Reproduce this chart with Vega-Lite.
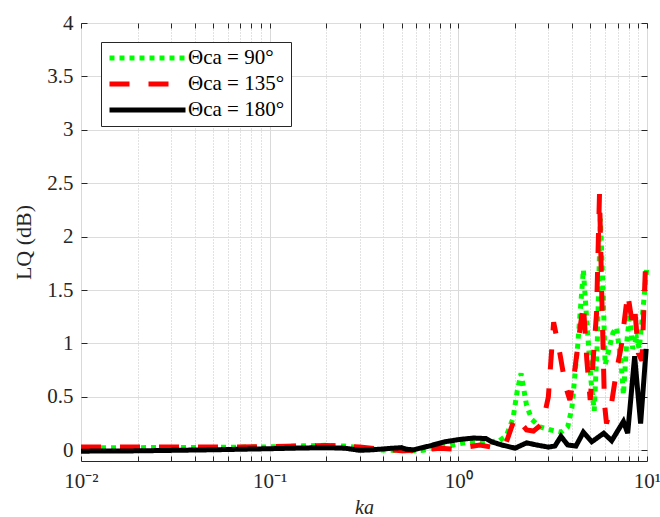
{
  "$schema": "https://vega.github.io/schema/vega-lite/v6.json",
  "width": 566,
  "height": 438,
  "autosize": {"type": "none"},
  "padding": {"left": 81, "top": 23, "right": 13, "bottom": 56},
  "background": "white",
  "config": {
    "view": {"stroke": "#262626", "strokeWidth": 1},
    "font": "Liberation Serif",
    "axis": {
      "domain": false,
      "labelFont": "Liberation Serif",
      "labelFontSize": 21,
      "labelColor": "#262626",
      "tickColor": "#262626",
      "titleFont": "Liberation Serif",
      "titleFontSize": 22,
      "titleFontWeight": "normal",
      "titleColor": "#262626"
    }
  },
  "datasets": {
    "d": [
      {"ka": 0.01, "L": 0.025, "s": "Θca = 90°", "k": "g"},
      {"ka": 0.02, "L": 0.025, "s": "Θca = 90°", "k": "g"},
      {"ka": 0.05, "L": 0.027, "s": "Θca = 90°", "k": "g"},
      {"ka": 0.1, "L": 0.032, "s": "Θca = 90°", "k": "g"},
      {"ka": 0.15, "L": 0.042, "s": "Θca = 90°", "k": "g"},
      {"ka": 0.2, "L": 0.047, "s": "Θca = 90°", "k": "g"},
      {"ka": 0.25, "L": 0.04, "s": "Θca = 90°", "k": "g"},
      {"ka": 0.3, "L": 0.025, "s": "Θca = 90°", "k": "g"},
      {"ka": 0.38, "L": 0.003, "s": "Θca = 90°", "k": "g"},
      {"ka": 0.47, "L": 0.0, "s": "Θca = 90°", "k": "g"},
      {"ka": 0.55, "L": -0.006, "s": "Θca = 90°", "k": "g"},
      {"ka": 0.65, "L": 0.0, "s": "Θca = 90°", "k": "g"},
      {"ka": 0.8, "L": 0.03, "s": "Θca = 90°", "k": "g"},
      {"ka": 0.94, "L": 0.05, "s": "Θca = 90°", "k": "g"},
      {"ka": 1.15, "L": 0.08, "s": "Θca = 90°", "k": "g"},
      {"ka": 1.5, "L": 0.08, "s": "Θca = 90°", "k": "g"},
      {"ka": 1.65, "L": 0.09, "s": "Θca = 90°", "k": "g"},
      {"ka": 1.8, "L": 0.14, "s": "Θca = 90°", "k": "g"},
      {"ka": 1.95, "L": 0.3, "s": "Θca = 90°", "k": "g"},
      {"ka": 2.05, "L": 0.55, "s": "Θca = 90°", "k": "g"},
      {"ka": 2.15, "L": 0.72, "s": "Θca = 90°", "k": "g"},
      {"ka": 2.3, "L": 0.42, "s": "Θca = 90°", "k": "g"},
      {"ka": 2.45, "L": 0.29, "s": "Θca = 90°", "k": "g"},
      {"ka": 2.7, "L": 0.22, "s": "Θca = 90°", "k": "g"},
      {"ka": 3.1, "L": 0.19, "s": "Θca = 90°", "k": "g"},
      {"ka": 3.5, "L": 0.17, "s": "Θca = 90°", "k": "g"},
      {"ka": 3.8, "L": 0.22, "s": "Θca = 90°", "k": "g"},
      {"ka": 4.0, "L": 0.4, "s": "Θca = 90°", "k": "g"},
      {"ka": 4.3, "L": 1.0, "s": "Θca = 90°", "k": "g"},
      {"ka": 4.6, "L": 1.69, "s": "Θca = 90°", "k": "g"},
      {"ka": 4.8, "L": 1.2, "s": "Θca = 90°", "k": "g"},
      {"ka": 5.05, "L": 0.65, "s": "Θca = 90°", "k": "g"},
      {"ka": 5.25, "L": 0.37, "s": "Θca = 90°", "k": "g"},
      {"ka": 5.45, "L": 1.0, "s": "Θca = 90°", "k": "g"},
      {"ka": 5.66, "L": 2.17, "s": "Θca = 90°", "k": "g"},
      {"ka": 5.85, "L": 1.5, "s": "Θca = 90°", "k": "g"},
      {"ka": 6.0, "L": 0.8, "s": "Θca = 90°", "k": "g"},
      {"ka": 6.2, "L": 0.9, "s": "Θca = 90°", "k": "g"},
      {"ka": 6.6, "L": 1.1, "s": "Θca = 90°", "k": "g"},
      {"ka": 6.9, "L": 1.15, "s": "Θca = 90°", "k": "g"},
      {"ka": 7.3, "L": 0.8, "s": "Θca = 90°", "k": "g"},
      {"ka": 7.5, "L": 0.52, "s": "Θca = 90°", "k": "g"},
      {"ka": 7.8, "L": 1.0, "s": "Θca = 90°", "k": "g"},
      {"ka": 8.1, "L": 1.28, "s": "Θca = 90°", "k": "g"},
      {"ka": 8.4, "L": 0.95, "s": "Θca = 90°", "k": "g"},
      {"ka": 8.8, "L": 1.05, "s": "Θca = 90°", "k": "g"},
      {"ka": 9.1, "L": 0.95, "s": "Θca = 90°", "k": "g"},
      {"ka": 9.5, "L": 1.3, "s": "Θca = 90°", "k": "g"},
      {"ka": 10, "L": 1.73, "s": "Θca = 90°", "k": "g"},

      {"ka": 0.01, "L": 0.03, "s": "Θca = 135°", "k": "r"},
      {"ka": 0.05, "L": 0.03, "s": "Θca = 135°", "k": "r"},
      {"ka": 0.1, "L": 0.035, "s": "Θca = 135°", "k": "r"},
      {"ka": 0.2, "L": 0.045, "s": "Θca = 135°", "k": "r"},
      {"ka": 0.25, "L": 0.04, "s": "Θca = 135°", "k": "r"},
      {"ka": 0.3, "L": 0.03, "s": "Θca = 135°", "k": "r"},
      {"ka": 0.4, "L": 0.01, "s": "Θca = 135°", "k": "r"},
      {"ka": 0.5, "L": -0.005, "s": "Θca = 135°", "k": "r"},
      {"ka": 0.6, "L": 0.0, "s": "Θca = 135°", "k": "r"},
      {"ka": 0.8, "L": 0.02, "s": "Θca = 135°", "k": "r"},
      {"ka": 0.95, "L": 0.01, "s": "Θca = 135°", "k": "r"},
      {"ka": 1.1, "L": 0.03, "s": "Θca = 135°", "k": "r"},
      {"ka": 1.3, "L": 0.05, "s": "Θca = 135°", "k": "r"},
      {"ka": 1.5, "L": 0.03, "s": "Θca = 135°", "k": "r"},
      {"ka": 1.65, "L": 0.02, "s": "Θca = 135°", "k": "r"},
      {"ka": 1.8, "L": 0.08, "s": "Θca = 135°", "k": "r"},
      {"ka": 1.9, "L": 0.2, "s": "Θca = 135°", "k": "r"},
      {"ka": 2.0, "L": 0.31, "s": "Θca = 135°", "k": "r"},
      {"ka": 2.1, "L": 0.28, "s": "Θca = 135°", "k": "r"},
      {"ka": 2.3, "L": 0.19, "s": "Θca = 135°", "k": "r"},
      {"ka": 2.5, "L": 0.18, "s": "Θca = 135°", "k": "r"},
      {"ka": 2.8, "L": 0.25, "s": "Θca = 135°", "k": "r"},
      {"ka": 3.0, "L": 0.5, "s": "Θca = 135°", "k": "r"},
      {"ka": 3.2, "L": 1.2, "s": "Θca = 135°", "k": "r"},
      {"ka": 3.45, "L": 0.91, "s": "Θca = 135°", "k": "r"},
      {"ka": 3.7, "L": 0.6, "s": "Θca = 135°", "k": "r"},
      {"ka": 3.9, "L": 0.47, "s": "Θca = 135°", "k": "r"},
      {"ka": 4.1, "L": 0.69, "s": "Θca = 135°", "k": "r"},
      {"ka": 4.4, "L": 1.12, "s": "Θca = 135°", "k": "r"},
      {"ka": 4.6, "L": 1.37, "s": "Θca = 135°", "k": "r"},
      {"ka": 4.8, "L": 0.84, "s": "Θca = 135°", "k": "r"},
      {"ka": 5.0, "L": 0.47, "s": "Θca = 135°", "k": "r"},
      {"ka": 5.4, "L": 1.28, "s": "Θca = 135°", "k": "r"},
      {"ka": 5.6, "L": 2.4, "s": "Θca = 135°", "k": "r"},
      {"ka": 5.75, "L": 1.5, "s": "Θca = 135°", "k": "r"},
      {"ka": 5.95, "L": 0.44, "s": "Θca = 135°", "k": "r"},
      {"ka": 6.1, "L": 0.25, "s": "Θca = 135°", "k": "r"},
      {"ka": 6.45, "L": 0.41, "s": "Θca = 135°", "k": "r"},
      {"ka": 6.9, "L": 0.75, "s": "Θca = 135°", "k": "r"},
      {"ka": 7.3, "L": 0.97, "s": "Θca = 135°", "k": "r"},
      {"ka": 7.9, "L": 1.47, "s": "Θca = 135°", "k": "r"},
      {"ka": 8.3, "L": 1.22, "s": "Θca = 135°", "k": "r"},
      {"ka": 8.6, "L": 1.34, "s": "Θca = 135°", "k": "r"},
      {"ka": 9.0, "L": 0.91, "s": "Θca = 135°", "k": "r"},
      {"ka": 9.4, "L": 0.84, "s": "Θca = 135°", "k": "r"},
      {"ka": 9.8, "L": 1.69, "s": "Θca = 135°", "k": "r"},
      {"ka": 10, "L": 1.75, "s": "Θca = 135°", "k": "r"},

      {"ka": 0.01, "L": -0.008, "s": "Θca = 180°", "k": "b"},
      {"ka": 0.02, "L": -0.005, "s": "Θca = 180°", "k": "b"},
      {"ka": 0.05, "L": 0.005, "s": "Θca = 180°", "k": "b"},
      {"ka": 0.1, "L": 0.015, "s": "Θca = 180°", "k": "b"},
      {"ka": 0.15, "L": 0.022, "s": "Θca = 180°", "k": "b"},
      {"ka": 0.2, "L": 0.025, "s": "Θca = 180°", "k": "b"},
      {"ka": 0.25, "L": 0.02, "s": "Θca = 180°", "k": "b"},
      {"ka": 0.3, "L": 0.0, "s": "Θca = 180°", "k": "b"},
      {"ka": 0.35, "L": 0.005, "s": "Θca = 180°", "k": "b"},
      {"ka": 0.45, "L": 0.02, "s": "Θca = 180°", "k": "b"},
      {"ka": 0.5, "L": 0.025, "s": "Θca = 180°", "k": "b"},
      {"ka": 0.53, "L": 0.01, "s": "Θca = 180°", "k": "b"},
      {"ka": 0.58, "L": 0.005, "s": "Θca = 180°", "k": "b"},
      {"ka": 0.7, "L": 0.04, "s": "Θca = 180°", "k": "b"},
      {"ka": 0.85, "L": 0.08, "s": "Θca = 180°", "k": "b"},
      {"ka": 1.0, "L": 0.1, "s": "Θca = 180°", "k": "b"},
      {"ka": 1.2, "L": 0.115, "s": "Θca = 180°", "k": "b"},
      {"ka": 1.4, "L": 0.11, "s": "Θca = 180°", "k": "b"},
      {"ka": 1.5, "L": 0.08, "s": "Θca = 180°", "k": "b"},
      {"ka": 1.7, "L": 0.05, "s": "Θca = 180°", "k": "b"},
      {"ka": 2.0, "L": 0.02, "s": "Θca = 180°", "k": "b"},
      {"ka": 2.3, "L": 0.07, "s": "Θca = 180°", "k": "b"},
      {"ka": 2.6, "L": 0.05, "s": "Θca = 180°", "k": "b"},
      {"ka": 3.0, "L": 0.03, "s": "Θca = 180°", "k": "b"},
      {"ka": 3.25, "L": 0.04, "s": "Θca = 180°", "k": "b"},
      {"ka": 3.5, "L": 0.13, "s": "Θca = 180°", "k": "b"},
      {"ka": 3.8, "L": 0.05, "s": "Θca = 180°", "k": "b"},
      {"ka": 4.2, "L": 0.04, "s": "Θca = 180°", "k": "b"},
      {"ka": 4.6, "L": 0.17, "s": "Θca = 180°", "k": "b"},
      {"ka": 5.1, "L": 0.08, "s": "Θca = 180°", "k": "b"},
      {"ka": 5.9, "L": 0.16, "s": "Θca = 180°", "k": "b"},
      {"ka": 6.5, "L": 0.09, "s": "Θca = 180°", "k": "b"},
      {"ka": 7.5, "L": 0.27, "s": "Θca = 180°", "k": "b"},
      {"ka": 7.9, "L": 0.16, "s": "Θca = 180°", "k": "b"},
      {"ka": 8.6, "L": 0.88, "s": "Θca = 180°", "k": "b"},
      {"ka": 9.25, "L": 0.25, "s": "Θca = 180°", "k": "b"},
      {"ka": 9.9, "L": 0.95, "s": "Θca = 180°", "k": "b"}
    ]
  },
  "data": {"name": "d"},
  "layer": [
    {
      "transform": [{"filter": "datum.k == 'g'"}],
      "mark": {"type": "line", "strokeWidth": 5, "strokeCap": "butt"},
      "encoding": {
        "x": {
          "field": "ka", "type": "quantitative",
          "scale": {"type": "log", "domain": [0.01, 10], "nice": false},
          "axis": {
            "orient": "bottom",
            "title": "ka",
            "titleFontStyle": "italic",
            "titleFontSize": 20,
            "titlePadding": 6,
            "values": [0.01,0.02,0.03,0.04,0.05,0.06,0.07,0.08,0.09,0.1,0.2,0.3,0.4,0.5,0.6,0.7,0.8,0.9,1,2,3,4,5,6,7,8,9,10],
            "labelExpr": "datum.value == 0.01 ? '10⁻²' : datum.value == 0.1 ? '10⁻¹' : datum.value == 1 ? '10⁰' : datum.value == 10 ? '10¹' : ''",
            "labelFlush": false,
            "labelOverlap": false,
            "labelBound": false,
            "labelPadding": 14,
            "tickSize": -5,
            "grid": true,
            "gridColor": {"condition": {"test": "datum.value == 0.01 || datum.value == 0.1 || datum.value == 1 || datum.value == 10", "value": "#d9d9d9"}, "value": "#c4c4c4"},
            "gridDash": {"condition": {"test": "datum.value == 0.01 || datum.value == 0.1 || datum.value == 1 || datum.value == 10", "value": []}, "value": [1, 2]}
          }
        },
        "y": {
          "field": "L", "type": "quantitative",
          "scale": {"domain": [-0.1, 4], "nice": false, "zero": false},
          "axis": {
            "orient": "left",
            "title": "LQ (dB)",
            "titlePadding": 11,
            "values": [0,0.5,1,1.5,2,2.5,3,3.5,4],
            "labelExpr": "datum.value == 0.5 ? '0.5' : datum.value == 1.5 ? '1.5' : datum.value == 2.5 ? '2.5' : datum.value == 3.5 ? '3.5' : toString(datum.value)",
            "labelAlign": "right",
            "labelPadding": 14,
            "tickSize": -6,
            "grid": true,
            "gridColor": "#dcdcdc"
          }
        },
        "color": {
          "field": "s", "type": "nominal",
          "scale": {"domain": ["Θca = 90°", "Θca = 135°", "Θca = 180°"], "range": ["#00ff00", "#ff0000", "#000000"]},
          "legend": {
            "orient": "none", "legendX": 20, "legendY": 19, "title": null,
            "symbolType": "stroke", "symbolSize": 5776, "symbolStrokeWidth": 5,
            "clipHeight": 20, "rowPadding": 5, "padding": 6,
            "strokeColor": "#262626", "fillColor": "white",
            "labelFont": "Liberation Serif", "labelFontSize": 21, "labelColor": "black",
            "labelOffset": 0, "labelLimit": 300
          }
        },
        "strokeDash": {
          "field": "s", "type": "nominal",
          "scale": {"domain": ["Θca = 90°", "Θca = 135°", "Θca = 180°"], "range": [[5, 5], [20, 19], [1, 0]]},
          "legend": {
            "orient": "none", "legendX": 20, "legendY": 19, "title": null,
            "symbolType": "stroke", "symbolSize": 5776, "symbolStrokeWidth": 5,
            "clipHeight": 20, "rowPadding": 5, "padding": 6,
            "strokeColor": "#262626", "fillColor": "white",
            "labelFont": "Liberation Serif", "labelFontSize": 21, "labelColor": "black",
            "labelOffset": 0, "labelLimit": 300
          }
        }
      }
    },
    {
      "transform": [{"filter": "datum.k == 'r'"}],
      "mark": {"type": "line", "strokeWidth": 5, "strokeCap": "butt"},
      "encoding": {
        "x": {"field": "ka", "type": "quantitative", "axis": null},
        "y": {"field": "L", "type": "quantitative", "axis": null},
        "color": {"field": "s", "type": "nominal"},
        "strokeDash": {"field": "s", "type": "nominal"}
      }
    },
    {
      "transform": [{"filter": "datum.k == 'b'"}],
      "mark": {"type": "line", "strokeWidth": 5, "strokeCap": "butt"},
      "encoding": {
        "x": {"field": "ka", "type": "quantitative", "axis": null},
        "y": {"field": "L", "type": "quantitative", "axis": null},
        "color": {"field": "s", "type": "nominal"},
        "strokeDash": {"field": "s", "type": "nominal"}
      }
    },
    {
      "transform": [{"filter": "datum.k == 'b'"}],
      "mark": {"type": "line", "opacity": 0},
      "encoding": {
        "x": {
          "field": "ka", "type": "quantitative",
          "axis": {
            "orient": "top", "title": null, "labels": false, "grid": false,
            "values": [0.01,0.02,0.03,0.04,0.05,0.06,0.07,0.08,0.09,0.1,0.2,0.3,0.4,0.5,0.6,0.7,0.8,0.9,1,2,3,4,5,6,7,8,9,10],
            "tickSize": -5
          }
        },
        "y": {
          "field": "L", "type": "quantitative",
          "axis": {
            "orient": "right", "title": null, "labels": false, "grid": false,
            "values": [0,0.5,1,1.5,2,2.5,3,3.5,4],
            "tickSize": -6
          }
        }
      }
    }
  ],
  "resolve": {"axis": {"x": "independent", "y": "independent"}}
}
